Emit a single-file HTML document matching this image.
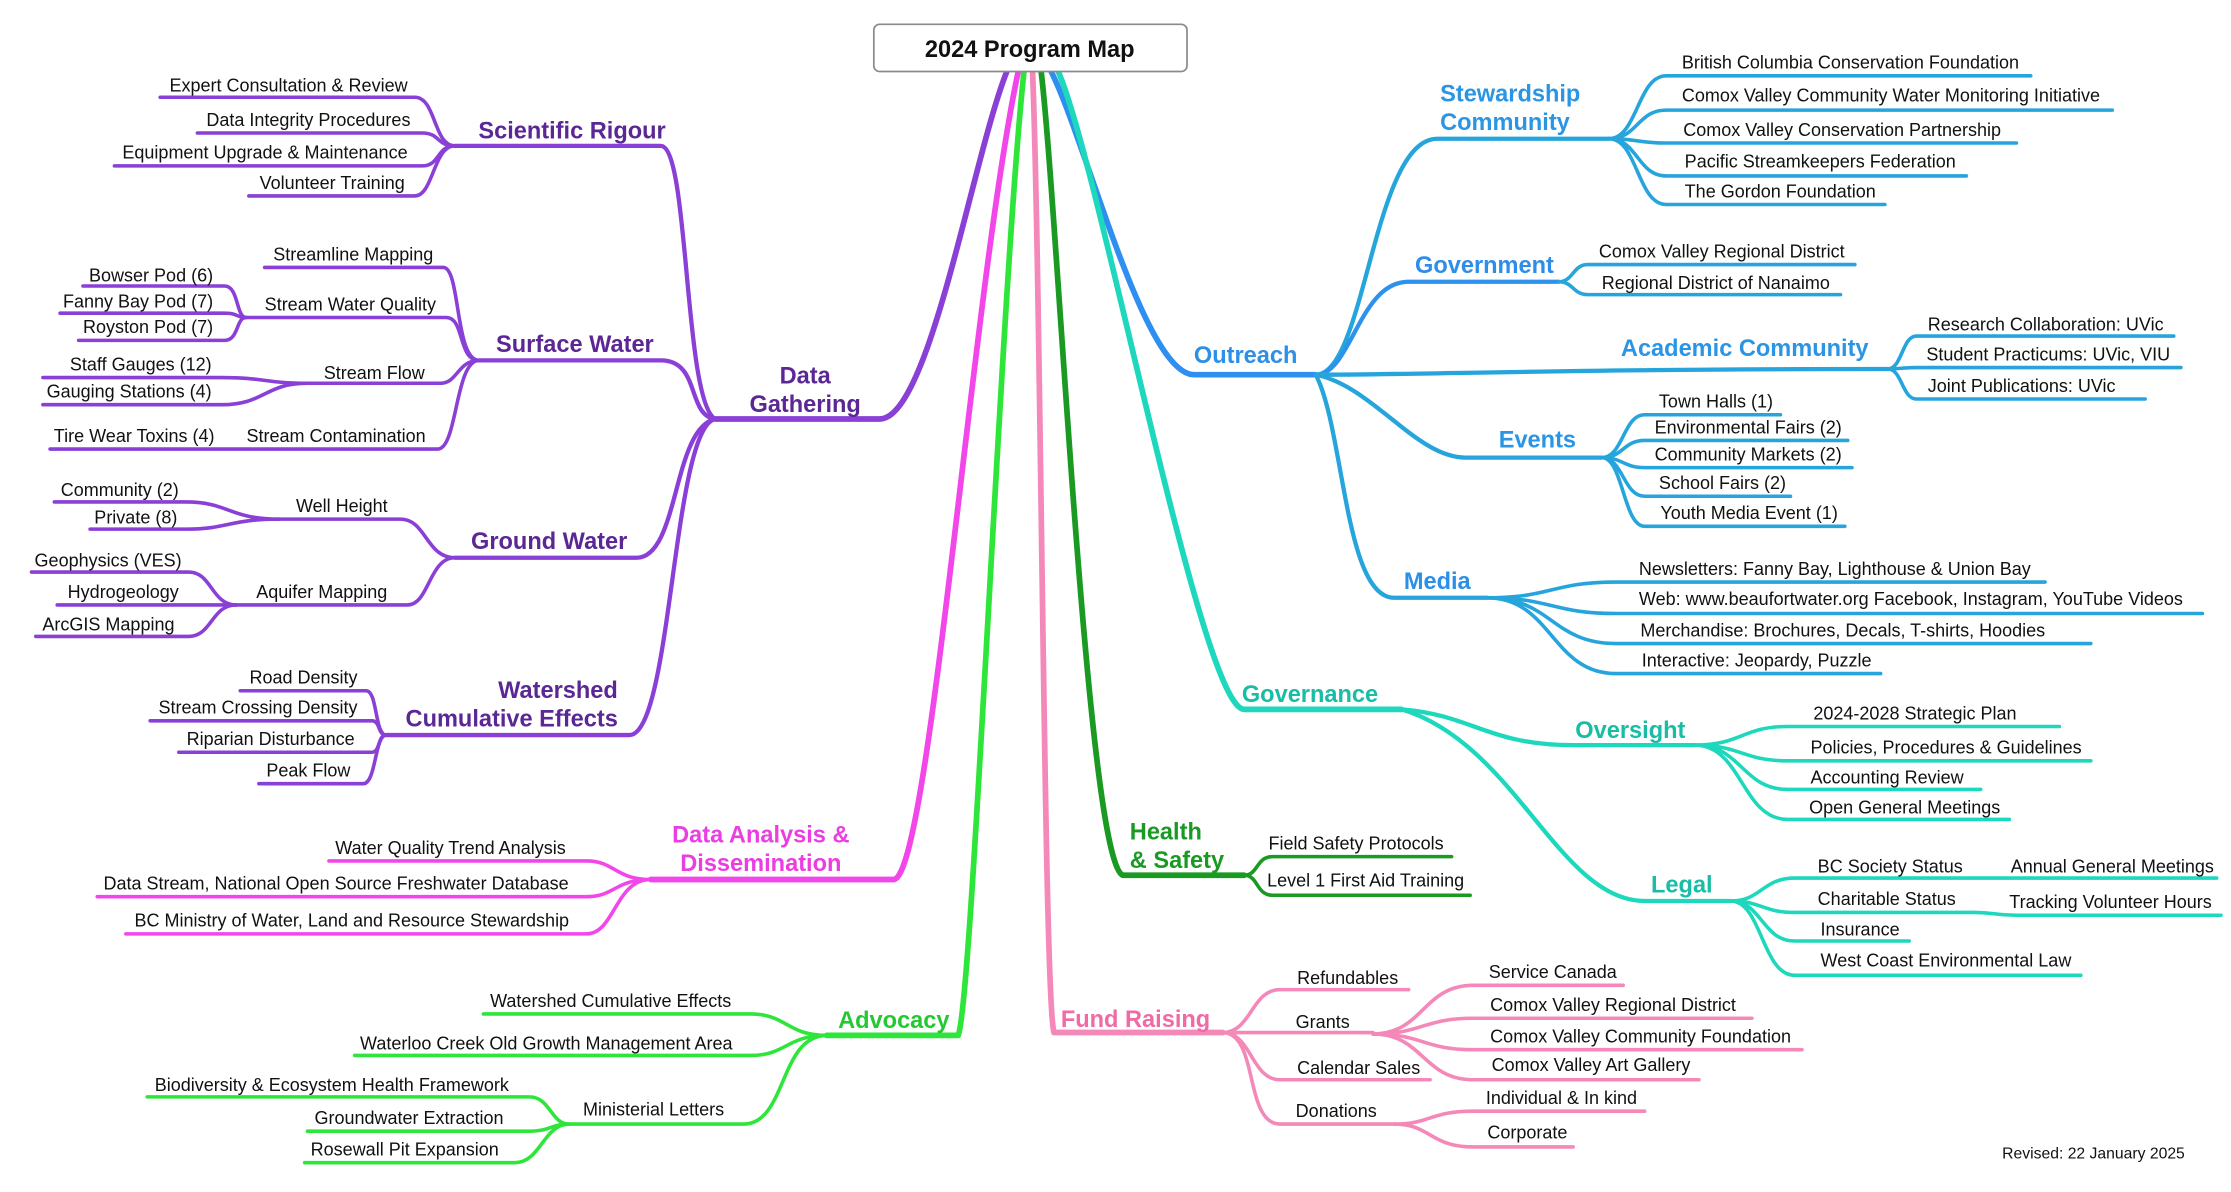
<!DOCTYPE html>
<html><head><meta charset="utf-8"><style>
html,body{margin:0;padding:0;background:#fff;}
svg{display:block;}
text{font-family:"Liberation Sans",Arial,sans-serif;}
.l{font-size:12.6px;fill:#111;}
.b{font-size:16.5px;font-weight:bold;}
.e{text-anchor:end;}
.m{text-anchor:middle;}
path{fill:none;stroke-linecap:round;stroke-linejoin:round;}
</style></head><body>
<svg width="2231" height="1192" viewBox="0 0 1560 833.5" xmlns="http://www.w3.org/2000/svg">
<rect width="1560" height="833.5" fill="#fff"/>

<!-- ============ DATA GATHERING (purple) ============ -->
<g stroke="#8a3fd6">
<path stroke-width="4" d="M704,50 C680,110 650,293 615,293 H500"/>
<g stroke-width="3">
<path d="M500,293 C478,280 482,102 462,102 H318"/>
<path d="M500,293 C480,290 490,252 462,252 H335"/>
<path d="M500,293 C470,300 475,390 445,390 H318"/>
<path d="M500,293 C470,300 470,514 440,514 H270"/>
</g>
<g stroke-width="2.5">
<path d="M318,102 C303,102 305,68 290,68 H112"/>
<path d="M318,102 C305,102 308,93 295,93 H138"/>
<path d="M318,102 C305,102 308,116 295,116 H80"/>
<path d="M318,102 C303,102 303,137 290,137 H174"/>
<path d="M335,252 C318,252 322,187 310,187 H185"/>
<path d="M335,252 C320,252 325,222 312,222 H172"/>
<path d="M335,252 C320,252 320,268 308,268 H215"/>
<path d="M335,252 C318,252 320,314 306,314 H35"/>
<path d="M172,222 C165,222 167,200 157,200 H58"/>
<path d="M172,222 C165,222 167,219 157,219 H42"/>
<path d="M172,222 C165,222 167,238 157,238 H55"/>
<path d="M215,268 C185,268 185,264 155,264 H30"/>
<path d="M215,268 C185,268 185,283 155,283 H30"/>
<path d="M318,390 C298,390 298,363 280,363 H195"/>
<path d="M318,390 C300,390 300,423 285,423 H165"/>
<path d="M195,363 C160,363 160,351 130,351 H38"/>
<path d="M195,363 C160,363 160,370 130,370 H63"/>
<path d="M165,423 C148,423 148,400 132,400 H22"/>
<path d="M165,423 H40"/>
<path d="M165,423 C148,423 148,445 132,445 H25"/>
<path d="M270,514 C262,514 264,483 256,483 H168"/>
<path d="M270,514 C264,514 266,504 260,504 H105"/>
<path d="M270,514 C264,514 266,526 260,526 H125"/>
<path d="M270,514 C262,514 263,548 254,548 H181"/>
</g>
</g>
<g fill="#5b2795" class="b">
<text class="b m" x="563" y="268" fill="#5b2795">Data</text>
<text class="b m" x="563" y="288" fill="#5b2795">Gathering</text>
<text class="b m" x="400" y="97" fill="#5b2795">Scientific Rigour</text>
<text class="b m" x="402" y="246" fill="#5b2795">Surface Water</text>
<text class="b m" x="384" y="384" fill="#5b2795">Ground Water</text>
<text class="b e" x="432" y="488" fill="#5b2795">Watershed</text>
<text class="b e" x="432" y="508" fill="#5b2795">Cumulative Effects</text>
</g>
<g class="l">
<text class="l e" x="285" y="64">Expert Consultation &amp; Review</text>
<text class="l e" x="287" y="88">Data Integrity Procedures</text>
<text class="l e" x="285" y="111">Equipment Upgrade &amp; Maintenance</text>
<text class="l e" x="283" y="132">Volunteer Training</text>
<text class="l m" x="247" y="182">Streamline Mapping</text>
<text class="l m" x="245" y="217">Stream Water Quality</text>
<text class="l e" x="297" y="265">Stream Flow</text>
<text class="l m" x="235" y="309">Stream Contamination</text>
<text class="l e" x="150" y="309">Tire Wear Toxins (4)</text>
<text class="l e" x="149" y="197">Bowser Pod (6)</text>
<text class="l e" x="149" y="215">Fanny Bay Pod (7)</text>
<text class="l e" x="149" y="233">Royston Pod (7)</text>
<text class="l e" x="148" y="259">Staff Gauges (12)</text>
<text class="l e" x="148" y="278">Gauging Stations (4)</text>
<text class="l m" x="239" y="358">Well Height</text>
<text class="l m" x="225" y="418">Aquifer Mapping</text>
<text class="l e" x="125" y="347">Community (2)</text>
<text class="l e" x="124" y="366">Private (8)</text>
<text class="l e" x="127" y="396">Geophysics (VES)</text>
<text class="l e" x="125" y="418">Hydrogeology</text>
<text class="l e" x="122" y="441">ArcGIS Mapping</text>
<text class="l e" x="250" y="478">Road Density</text>
<text class="l e" x="250" y="499">Stream Crossing Density</text>
<text class="l e" x="248" y="521">Riparian Disturbance</text>
<text class="l e" x="245" y="543">Peak Flow</text>
</g>

<!-- ============ DATA ANALYSIS (magenta) ============ -->
<g stroke="#f245ea">
<path stroke-width="4" d="M712,50 C680,200 650,612 625,615 H455"/>
<g stroke-width="2.5">
<path d="M455,615 C430,615 430,602 410,602 H230"/>
<path d="M455,615 C430,615 430,627 410,627 H68"/>
<path d="M455,615 C430,615 430,653 410,653 H88"/>
</g>
</g>
<text class="b m" x="532" y="589" fill="#ea3de2">Data Analysis &amp;</text>
<text class="b m" x="532" y="609" fill="#ea3de2">Dissemination</text>
<text class="l m" x="315" y="597">Water Quality Trend Analysis</text>
<text class="l m" x="235" y="622">Data Stream, National Open Source Freshwater Database</text>
<text class="l m" x="246" y="648">BC Ministry of Water, Land and Resource Stewardship</text>

<!-- ============ ADVOCACY (green) ============ -->
<g stroke="#2ee63a">
<path stroke-width="4" d="M716,50 C700,200 680,700 670,724 H578"/>
<g stroke-width="2.5">
<path d="M578,724 C550,724 550,709 525,709 H338"/>
<path d="M578,724 C550,724 550,738 525,738 H248"/>
<path d="M578,724 C545,724 550,786 520,786 H398"/>
<path d="M398,786 C385,786 385,767 370,767 H103"/>
<path d="M398,786 C385,786 385,791 370,791 H215"/>
<path d="M398,786 C380,786 378,813 360,813 H213"/>
</g>
</g>
<text class="b m" x="625" y="719" fill="#23c931">Advocacy</text>
<text class="l m" x="427" y="704">Watershed Cumulative Effects</text>
<text class="l m" x="382" y="734">Waterloo Creek Old Growth Management Area</text>
<text class="l m" x="457" y="780">Ministerial Letters</text>
<text class="l m" x="232" y="763">Biodiversity &amp; Ecosystem Health Framework</text>
<text class="l m" x="286" y="786">Groundwater Extraction</text>
<text class="l m" x="283" y="808">Rosewall Pit Expansion</text>

<!-- ============ HEALTH & SAFETY ============ -->
<g stroke="#1a9a22">
<path stroke-width="4" d="M728,50 C740,150 760,600 785,612 H870"/>
<g stroke-width="2.5">
<path d="M870,612 C880,612 878,599 890,599 H1015"/>
<path d="M870,612 C880,612 878,626 890,626 H1028"/>
</g>
</g>
<text class="b" x="790" y="587" fill="#1a9a22">Health</text>
<text class="b" x="790" y="607" fill="#1a9a22">&amp; Safety</text>
<text class="l" x="887" y="594">Field Safety Protocols</text>
<text class="l" x="886" y="620">Level 1 First Aid Training</text>

<!-- ============ FUND RAISING (pink) ============ -->
<g stroke="#f488b8">
<path stroke-width="4" d="M722,50 C728,200 730,700 737,722 H855"/>
<g stroke-width="2.5">
<path d="M855,722 C875,722 875,692 895,692 H985"/>
<path d="M855,722 H960"/>
<path d="M855,722 C875,722 875,755 895,755 H1000"/>
<path d="M855,722 C880,722 870,786 895,786 H975"/>
<path d="M960,723 C995,723 995,689 1030,689 H1135"/>
<path d="M960,723 C995,723 995,712 1030,712 H1225"/>
<path d="M960,723 C995,723 995,734 1030,734 H1260"/>
<path d="M960,723 C995,723 995,755 1030,755 H1188"/>
<path d="M975,786 C1000,786 1000,777 1030,777 H1150"/>
<path d="M975,786 C1000,786 1000,802 1030,802 H1100"/>
</g>
</g>
<text class="b m" x="794" y="718" fill="#f06aa5">Fund Raising</text>
<text class="l" x="907" y="688">Refundables</text>
<text class="l" x="906" y="719">Grants</text>
<text class="l" x="907" y="751">Calendar Sales</text>
<text class="l" x="906" y="781">Donations</text>
<text class="l" x="1041" y="684">Service Canada</text>
<text class="l" x="1042" y="707">Comox Valley Regional District</text>
<text class="l" x="1042" y="729">Comox Valley Community Foundation</text>
<text class="l" x="1043" y="749">Comox Valley Art Gallery</text>
<text class="l" x="1039" y="772">Individual &amp; In kind</text>
<text class="l" x="1040" y="796">Corporate</text>

<!-- ============ OUTREACH (blue) ============ -->
<path stroke="#2f8ff0" stroke-width="4" d="M735,50 C760,100 800,262 835,262 H920"/>
<g stroke="#25a5dc" stroke-width="3">
<path d="M920,262 C955,262 960,97 1005,97 H1125"/>
<path stroke="#2d92ee" d="M920,262 C945,262 950,197 985,197 H1090"/>
<path d="M920,262 C1000,262 1100,258 1320,258"/>
<path d="M920,262 C960,270 990,320 1025,320 H1120"/>
<path d="M920,262 C940,300 940,418 975,418 H1040"/>
</g>
<g stroke="#25a5dc" stroke-width="2.5">
<path d="M1125,97 C1145,97 1145,53 1165,53 H1420"/>
<path d="M1125,97 C1145,97 1145,77 1165,77 H1477"/>
<path d="M1125,97 C1145,97 1145,100 1165,100 H1410"/>
<path d="M1125,97 C1145,97 1145,123 1165,123 H1375"/>
<path d="M1125,97 C1145,97 1145,143 1165,143 H1318"/>
<path d="M1090,197 C1100,197 1100,185 1110,185 H1297"/>
<path d="M1090,197 C1100,197 1100,206 1110,206 H1287"/>
<path d="M1320,258 C1330,258 1330,235 1340,235 H1520"/>
<path d="M1320,258 C1330,258 1330,257 1340,257 H1525"/>
<path d="M1320,258 C1330,258 1330,279 1340,279 H1500"/>
<path d="M1120,320 C1135,320 1135,290 1150,290 H1245"/>
<path d="M1120,320 C1135,320 1135,308 1150,308 H1292"/>
<path d="M1120,320 C1135,320 1135,327 1150,327 H1295"/>
<path d="M1120,320 C1135,320 1135,347 1150,347 H1252"/>
<path d="M1120,320 C1135,320 1135,368 1150,368 H1290"/>
<path d="M1040,418 C1085,418 1085,407 1130,407 H1430"/>
<path d="M1040,418 C1085,418 1085,429 1130,429 H1540"/>
<path d="M1040,418 C1085,418 1085,450 1130,450 H1462"/>
<path d="M1040,418 C1085,418 1085,471 1130,471 H1315"/>
</g>
<text class="b m" x="871" y="254" fill="#2c8fe8">Outreach</text>
<text class="b" x="1007" y="71" fill="#2a95e5">Stewardship</text>
<text class="b" x="1007" y="91" fill="#2a95e5">Community</text>
<text class="b m" x="1038" y="191" fill="#2d8de8">Government</text>
<text class="b m" x="1220" y="249" fill="#2a95e5">Academic Community</text>
<text class="b m" x="1075" y="313" fill="#2a95e5">Events</text>
<text class="b m" x="1005" y="412" fill="#2a8fe8">Media</text>
<text class="l" x="1176" y="48">British Columbia Conservation Foundation</text>
<text class="l" x="1176" y="71">Comox Valley Community Water Monitoring Initiative</text>
<text class="l" x="1177" y="95">Comox Valley Conservation Partnership</text>
<text class="l" x="1178" y="117">Pacific Streamkeepers Federation</text>
<text class="l" x="1178" y="138">The Gordon Foundation</text>
<text class="l" x="1118" y="180">Comox Valley Regional District</text>
<text class="l" x="1120" y="202">Regional District of Nanaimo</text>
<text class="l" x="1348" y="231">Research Collaboration: UVic</text>
<text class="l" x="1347" y="252">Student Practicums: UVic, VIU</text>
<text class="l" x="1348" y="274">Joint Publications: UVic</text>
<text class="l" x="1160" y="285">Town Halls (1)</text>
<text class="l" x="1157" y="303">Environmental Fairs (2)</text>
<text class="l" x="1157" y="322">Community Markets (2)</text>
<text class="l" x="1160" y="342">School Fairs (2)</text>
<text class="l" x="1161" y="363">Youth Media Event (1)</text>
<text class="l" x="1146" y="402">Newsletters: Fanny Bay, Lighthouse &amp; Union Bay</text>
<text class="l" x="1146" y="423">Web: www.beaufortwater.org  Facebook, Instagram, YouTube Videos</text>
<text class="l" x="1147" y="445">Merchandise: Brochures, Decals, T-shirts, Hoodies</text>
<text class="l" x="1148" y="466">Interactive: Jeopardy, Puzzle</text>

<!-- ============ GOVERNANCE (teal) ============ -->
<g stroke="#1dd8bc">
<path stroke-width="4" d="M740,50 C770,120 840,496 870,496 H980"/>
<g stroke-width="3">
<path d="M980,496 C1030,500 1040,521 1100,521 H1185"/>
<path d="M980,496 C1060,520 1090,630 1150,630 H1210"/>
</g>
<g stroke-width="2.5">
<path d="M1185,521 C1218,521 1218,508 1250,508 H1440"/>
<path d="M1185,521 C1218,521 1218,532 1250,532 H1462"/>
<path d="M1185,521 C1218,521 1218,552 1250,552 H1385"/>
<path d="M1185,521 C1218,521 1218,573 1250,573 H1405"/>
<path d="M1210,630 C1232,630 1232,614 1255,614 H1550"/>
<path d="M1210,630 C1232,630 1232,638 1255,638 H1380 C1395,638 1395,640 1410,640 H1553"/>
<path d="M1210,630 C1232,630 1232,658 1255,658 H1335"/>
<path d="M1210,630 C1232,630 1232,682 1255,682 H1455"/>
</g>
</g>
<text class="b m" x="916" y="491" fill="#19bca5">Governance</text>
<text class="b m" x="1140" y="516" fill="#19bca5">Oversight</text>
<text class="b m" x="1176" y="624" fill="#19bca5">Legal</text>
<text class="l" x="1268" y="503">2024-2028 Strategic Plan</text>
<text class="l" x="1266" y="527">Policies, Procedures &amp; Guidelines</text>
<text class="l" x="1266" y="548">Accounting Review</text>
<text class="l" x="1265" y="569">Open General Meetings</text>
<text class="l" x="1271" y="610">BC Society Status</text>
<text class="l" x="1406" y="610">Annual General Meetings</text>
<text class="l" x="1271" y="633">Charitable Status</text>
<text class="l" x="1405" y="635">Tracking Volunteer Hours</text>
<text class="l" x="1273" y="654">Insurance</text>
<text class="l" x="1273" y="676">West Coast Environmental Law</text>

<!-- ============ ROOT ============ -->
<rect x="611" y="17" width="219" height="33" rx="4" fill="#fff" stroke="#8a8a8a" stroke-width="1.2"/>
<text x="720" y="40" text-anchor="middle" style="font-size:16.5px;font-weight:bold" fill="#111">2024 Program Map</text>

<text x="1400" y="810" style="font-size:11px" fill="#111">Revised: 22 January 2025</text>
</svg>
</body></html>
